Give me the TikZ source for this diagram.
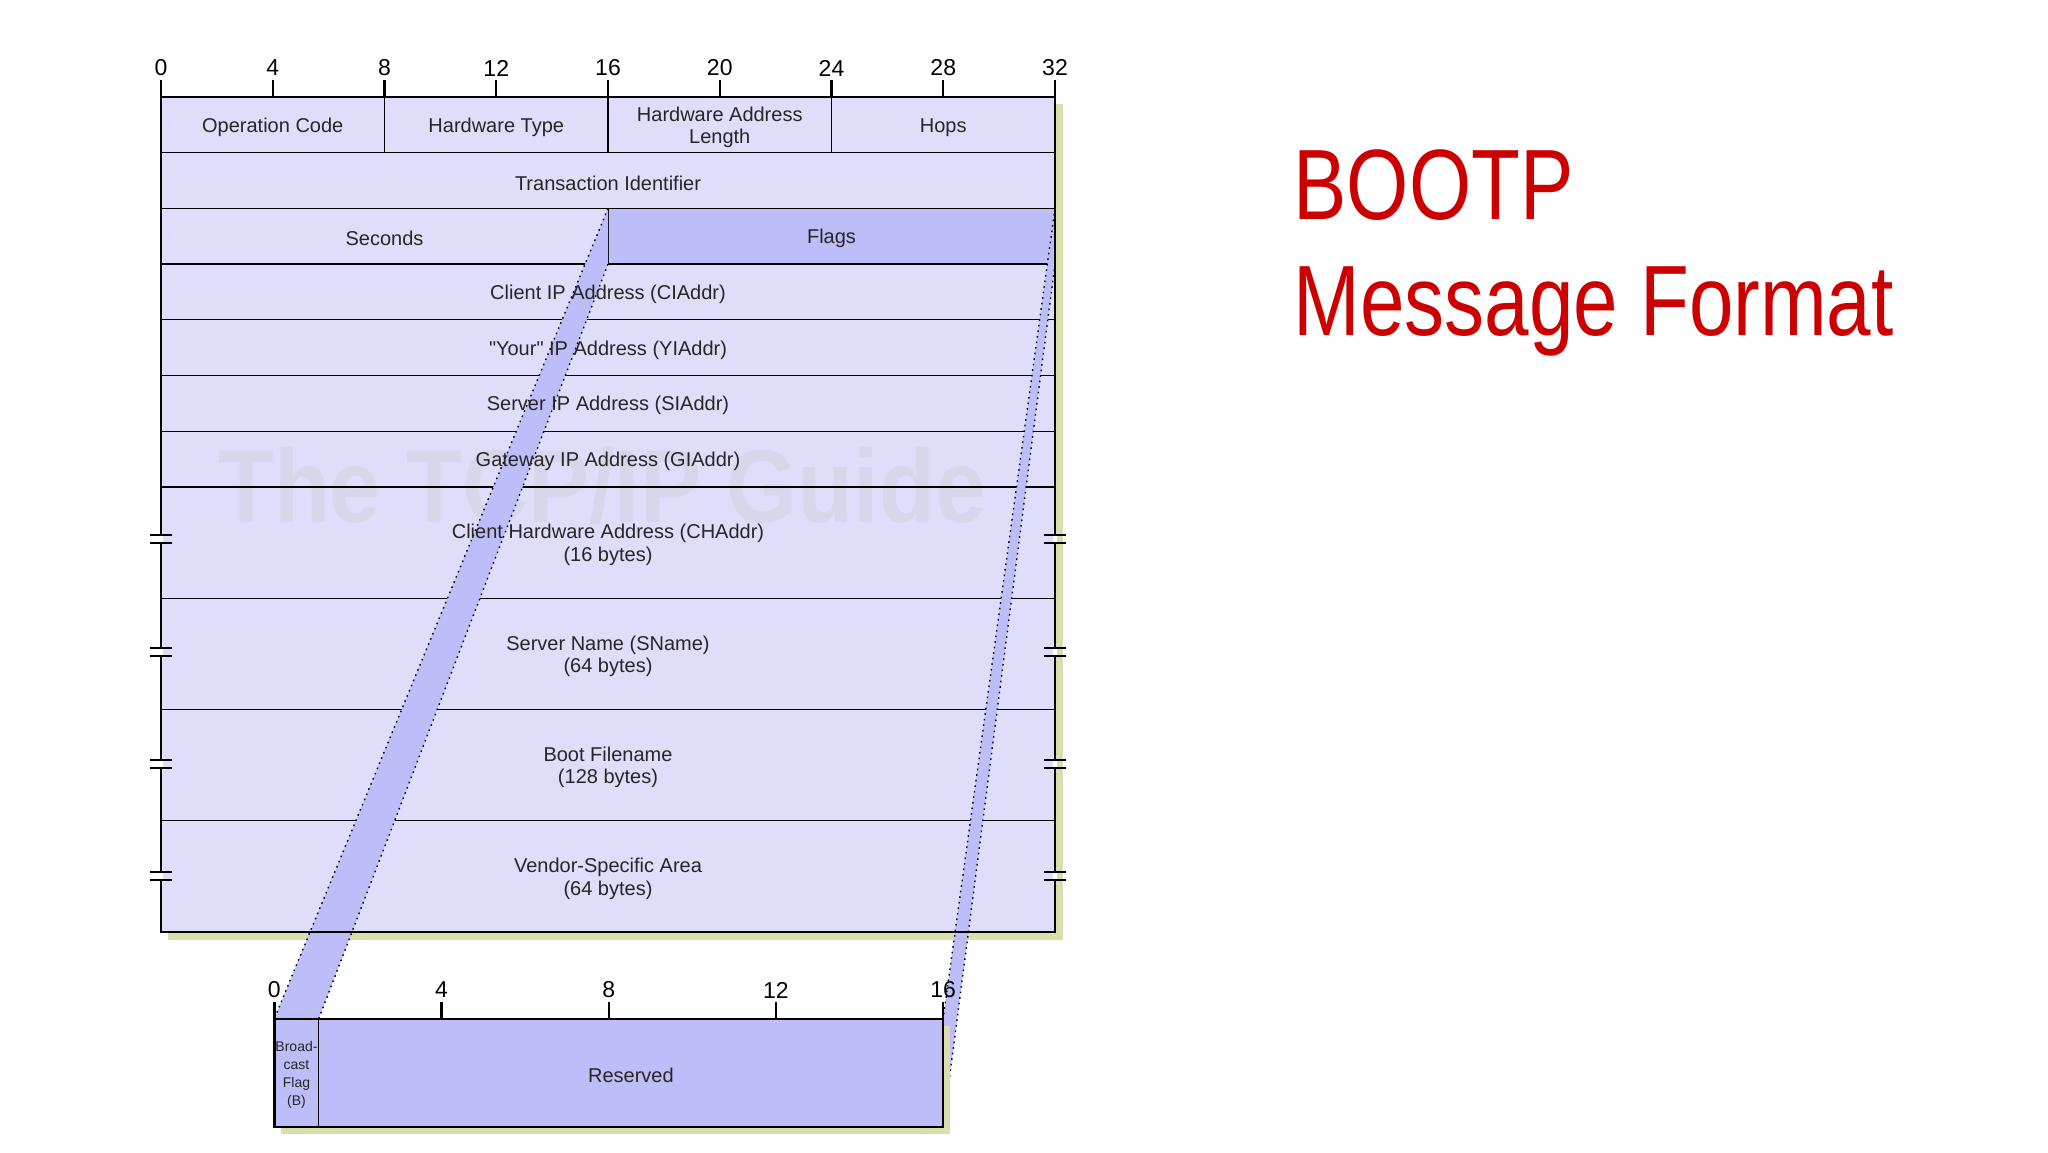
\documentclass[tikz,border=0pt]{standalone}
\usepackage{fontspec}
\setmainfont[Ligatures=TeXOff]{Liberation Sans}
\newfontfamily\titlefont[FakeStretch=0.8]{Liberation Sans}
\newfontfamily\wmfont[FakeStretch=0.88]{Liberation Sans}
\usetikzlibrary{fit}
\definecolor{lav}{RGB}{222,222,250}
\definecolor{flagc}{RGB}{189,189,250}
\definecolor{shad}{RGB}{218,222,172}
\definecolor{wmc}{RGB}{215,215,236}
\definecolor{titlered}{RGB}{204,0,0}
\tikzset{
  cellbox/.style={draw=black, line width=0.65pt, inner sep=0pt, outer sep=0pt},
  flagbox/.style={cellbox, fill=flagc},
  bgbox/.style={fill=lav, inner sep=0pt, outer sep=0pt},
  framebox/.style={draw=black, line width=1.3pt, inner sep=0pt, outer sep=0pt},
  shadowbox/.style={fill=shad, inner sep=0pt, outer sep=0pt},
  lbl/.style={font=\fontsize{10}{11.2}\selectfont, align=center, inner sep=0pt, text=black!85, yshift=-1.2pt},
  ticklbl/.style={font=\fontsize{11.5}{12}\selectfont, inner sep=0pt},
  tickline/.style={line width=1.2pt},
  band/.style={fill=flagc},
  bandedge/.style={line width=0.7pt, dash pattern=on 0.8pt off 2pt},
  breakbar/.style={line width=1pt}
}
\begin{document}
\begin{tikzpicture}[x=0.5pt,y=-0.5pt]
\useasboundingbox[fill=white] (0,0) rectangle (2048,1152);
% main shadow and background
\node[shadowbox, fit={(168,104) (1063,940)}] (mshadow) {};
\node[bgbox, fit={(161,97) (1055,932.1)}] (mbg) {};
% watermark
\node[anchor=base, inner sep=0pt, text=wmc, font=\wmfont\bfseries\fontsize{52}{52}\selectfont] (wm) at (602,522) {The TCP/IP Guide};
% main cells
\node[cellbox, fit={(161,97) (384.5,152.7)}] (opc) {};
\node[cellbox, fit={(384.5,97) (608,152.7)}] (hwt) {};
\node[cellbox, fit={(608,97) (831.5,152.7)}] (hal) {};
\node[cellbox, fit={(831.5,97) (1055,152.7)}] (hops) {};
\node[cellbox, fit={(161,152.7) (1055,208.4)}] (xid) {};
\node[cellbox, fit={(161,208.4) (608,264.1)}] (secs) {};
\node[flagbox, fit={(608,208.4) (1055,264.1)}] (flags) {};
\node[cellbox, fit={(161,264.1) (1055,319.8)}] (ciaddr) {};
\node[cellbox, fit={(161,319.8) (1055,375.5)}] (yiaddr) {};
\node[cellbox, fit={(161,375.5) (1055,431.2)}] (siaddr) {};
\node[cellbox, fit={(161,431.2) (1055,486.9)}] (giaddr) {};
\node[cellbox, fit={(161,486.9) (1055,598.2)}] (chaddr) {};
\node[cellbox, fit={(161,598.2) (1055,709.5)}] (sname) {};
\node[cellbox, fit={(161,709.5) (1055,820.8)}] (file) {};
\node[cellbox, fit={(161,820.8) (1055,932.1)}] (vend) {};
% bottom cells geometry (defined early for band anchors)
\path (274.3,1018.8) coordinate (bnw) (318.7,1018.8) coordinate (bne)
      (943.1,1018.8) coordinate (rne) (943.1,1127) coordinate (rse);
% bands
\fill[band] (flags.north west) -- (flags.south west) -- (bne) -- (bnw) -- cycle;
\draw[bandedge] (flags.north west) -- (bnw);
\draw[bandedge] (flags.south west) -- (bne);
\fill[band] (flags.north east) -- (flags.south east) -- (rse) -- (rne) -- cycle;
\draw[bandedge] (flags.north east) -- (rne);
\draw[bandedge] (flags.south east) -- (rse);
% labels
\node[lbl] (opcT) at (opc.center) {Operation Code};
\node[lbl] (hwtT) at (hwt.center) {Hardware Type};
\node[lbl] (halT) at (hal.center) {Hardware Address\\Length};
\node[lbl] (hopsT) at (hops.center) {Hops};
\node[lbl] (xidT) at (xid.center) {Transaction Identifier};
\node[lbl] (secsT) at (secs.center) {Seconds};
\node[lbl] (flagsT) at (flags.center) {Flags};
\node[lbl] (ciT) at (ciaddr.center) {Client IP Address (CIAddr)};
\node[lbl] (yiT) at (yiaddr.center) {"Your" IP Address (YIAddr)};
\node[lbl] (siT) at (siaddr.center) {Server IP Address (SIAddr)};
\node[lbl] (giT) at (giaddr.center) {Gateway IP Address (GIAddr)};
\node[lbl] (chT) at (chaddr.center) {Client Hardware Address (CHAddr)\\(16 bytes)};
\node[lbl] (snT) at (sname.center) {Server Name (SName)\\(64 bytes)};
\node[lbl] (fileT) at (file.center) {Boot Filename\\(128 bytes)};
\node[lbl] (vendT) at (vend.center) {Vendor-Specific Area\\(64 bytes)};
% main frame
\node[framebox, fit={(161,97) (1055,932.1)}] (mframe) {};
% ticks
\foreach \b/\t in {0/0,4/4,8/8,12/12,16/16,20/20,24/24,28/28,32/32} {
  \draw[tickline] (161+27.9375*\b,97) -- (161+27.9375*\b,80);
  \node[ticklbl] (tk\b) at (161+27.9375*\b,68) {\t};
}
% break marks
\foreach \y in {539.4,651.7,764,876.4} {
  \foreach \x in {161,1055} {
    \fill[white] (\x-1.8,\y-4) rectangle (\x+1.8,\y+4);
    \draw[breakbar] (\x-11,\y-4) -- (\x+11,\y-4);
    \draw[breakbar] (\x-11,\y+4) -- (\x+11,\y+4);
  }
}
% bottom table
\node[shadowbox, fit={(281,1026) (950,1134)}] (bshadow) {};
\node[flagbox, fit={(bnw) (318.7,1127)}] (bflag) {};
\node[flagbox, fit={(bne) (rse)}] (resv) {};
\node[framebox, fit={(bnw) (rse)}] (bframe) {};
\node[inner sep=0pt, align=center, font=\fontsize{7}{9}\selectfont, text=black!85, yshift=-0.8pt] (bflagT) at (bflag.center) {Broad-\\cast\\Flag\\(B)};
\node[lbl] (resvT) at (resv.center) {Reserved};
\foreach \b/\t in {0/0,4/4,8/8,12/12,16/16} {
  \draw[tickline] (274.3+41.8*\b,1018.8) -- (274.3+41.8*\b,1002);
  \node[ticklbl] (btk\b) at (274.3+41.8*\b,990) {\t};
}
% title
\node[anchor=base west, inner sep=0pt, text=titlered, font=\titlefont\fontsize{50}{58}\selectfont] (t1) at (1293,219.4) {BOOTP};
\node[anchor=base west, inner sep=0pt, text=titlered, font=\titlefont\fontsize{50}{58}\selectfont] (t2) at (1293,335.7) {Message Format};
\end{tikzpicture}
\end{document}
